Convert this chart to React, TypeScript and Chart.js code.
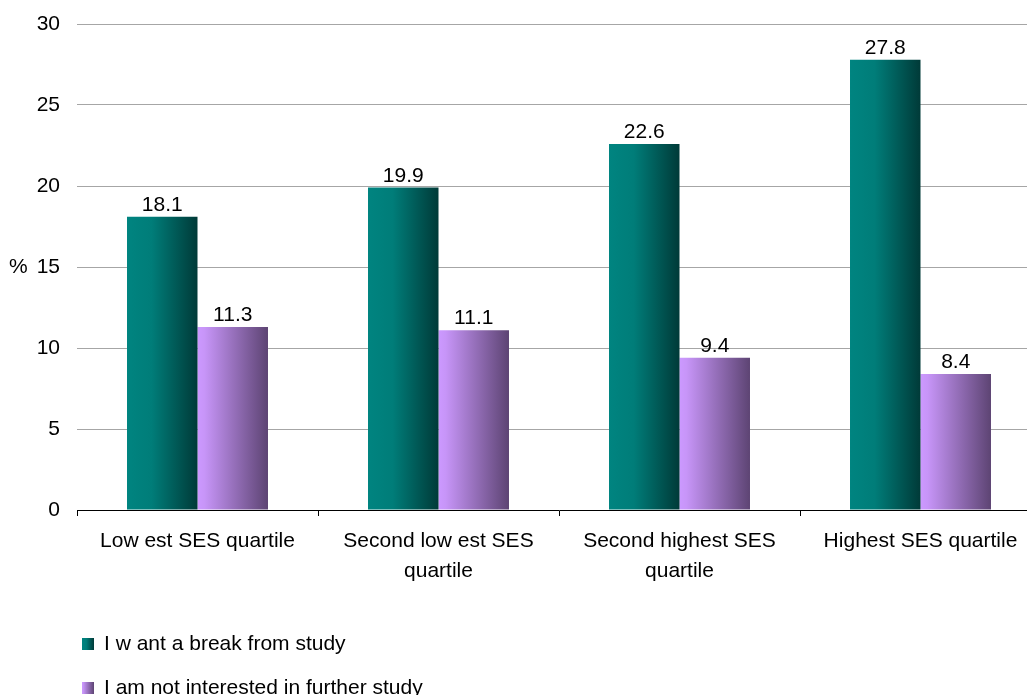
import React, { useEffect, useRef } from "react";
import { Chart, registerables } from "chart.js";

Chart.register(...registerables);

const categories: string[][] = [
  ["Low est SES quartile"],
  ["Second low est SES", "quartile"],
  ["Second highest SES", "quartile"],
  ["Highest SES quartile"],
];
const breakFromStudy = [18.1, 19.9, 22.6, 27.8];
const notInterested = [11.3, 11.1, 9.4, 8.4];
const seriesNames = ["I w ant a break from study", "I am not interested in further study"];
const yTicks = [0, 5, 10, 15, 20, 25, 30];

const FONT = "'Liberation Sans', Arial, sans-serif";
const TEXT_SIZE = 21;
const CAT_PCT = 0.585;

// left-to-right colour ramps for each series
const ramps: [number, string][][] = [
  [
    [0, "#008480"],
    [0.35, "#007d79"],
    [1, "#003a38"],
  ],
  [
    [0, "#cc99ff"],
    [0.1, "#c795f8"],
    [1, "#5d4473"],
  ],
];

function makeGradient(ctx: CanvasRenderingContext2D, x0: number, x1: number, ramp: [number, string][]) {
  const g = ctx.createLinearGradient(x0, 0, x1, 0);
  ramp.forEach(([s, c]) => g.addColorStop(s, c));
  return g;
}

function barFill(dsIndex: number) {
  return (context: any) => {
    const chart = context.chart;
    const x = chart.scales?.x;
    const fallback = ramps[dsIndex][0][1];
    if (!x || context.dataIndex === undefined) return fallback;
    const center = x.getPixelForValue(context.dataIndex);
    const catW = Math.abs(x.getPixelForValue(1) - x.getPixelForValue(0));
    if (!Number.isFinite(center) || !Number.isFinite(catW) || catW === 0) return fallback;
    const bw = (catW * CAT_PCT) / 2;
    const x0 = dsIndex === 0 ? center - bw : center;
    return makeGradient(chart.ctx, x0, x0 + bw, ramps[dsIndex]);
  };
}

const valueLabels = {
  id: "valueLabels",
  afterDatasetsDraw(chart: any) {
    const ctx = chart.ctx;
    ctx.save();
    ctx.font = `${TEXT_SIZE}px ${FONT}`;
    ctx.fillStyle = "#000";
    ctx.textAlign = "center";
    ctx.textBaseline = "alphabetic";
    chart.data.datasets.forEach((ds: any, i: number) => {
      chart.getDatasetMeta(i).data.forEach((bar: any, j: number) => {
        ctx.fillText(Number(ds.data[j]).toFixed(1), bar.x, bar.y - 6);
      });
    });
    ctx.restore();
  },
};

const sideLabelAndLegend = {
  id: "sideLabelAndLegend",
  afterDraw(chart: any) {
    const ctx = chart.ctx;
    const y = chart.scales.y;
    ctx.save();
    ctx.font = `${TEXT_SIZE}px ${FONT}`;
    ctx.fillStyle = "#000";
    ctx.textBaseline = "middle";
    ctx.textAlign = "left";
    ctx.fillText("%", 9, y.getPixelForValue(15));

    const rows = [644, 688];
    chart.data.datasets.forEach((ds: any, i: number) => {
      const cy = rows[i];
      ctx.fillStyle = makeGradient(ctx, 82, 94, ramps[i]);
      ctx.fillRect(82, cy - 6, 12, 12);
      ctx.fillStyle = "#000";
      ctx.fillText(ds.label, 104, cy);
    });
    ctx.restore();
  },
};

export default function App() {
  const ref = useRef<HTMLCanvasElement>(null);

  useEffect(() => {
    document.documentElement.style.overflow = "hidden";
    document.body.style.margin = "0";
    document.body.style.overflow = "hidden";
    if (!ref.current) return;
    const chart = new Chart(ref.current, {
      type: "bar",
      data: {
        labels: categories,
        datasets: [
          { label: seriesNames[0], data: breakFromStudy, backgroundColor: barFill(0), borderWidth: 0 },
          { label: seriesNames[1], data: notInterested, backgroundColor: barFill(1), borderWidth: 0 },
        ],
      },
      options: {
        responsive: false,
        animation: false,
        devicePixelRatio: 1,
        layout: { padding: { top: 24, right: 0, bottom: 0, left: 0 } },
        plugins: { legend: { display: false }, tooltip: { enabled: false } },
        datasets: { bar: { categoryPercentage: CAT_PCT, barPercentage: 1 } },
        scales: {
          x: {
            offset: true,
            grid: { drawOnChartArea: false, drawTicks: true, tickLength: 6, color: "#000", offset: true },
            border: { color: "#000", width: 1 },
            ticks: {
              font: { family: FONT, size: TEXT_SIZE, lineHeight: 1.4 },
              color: "#000",
              padding: 11,
              maxRotation: 0,
              autoSkip: false,
            },
            afterFit(scale: any) {
              scale.height = 185;
              scale.paddingTop = 0;
              scale.paddingBottom = 0;
            },
          },
          y: {
            min: 0,
            max: 30,
            afterBuildTicks(scale: any) {
              scale.ticks = yTicks.map((v) => ({ value: v }));
            },
            grid: {
              drawTicks: false,
              color: (c: any) => (c.tick && c.tick.value === 0 ? "rgba(0,0,0,0)" : "#a6a6a6"),
              lineWidth: 1,
            },
            border: { display: false },
            ticks: { font: { family: FONT, size: TEXT_SIZE }, color: "#000", padding: 17 },
            afterFit(scale: any) {
              scale.width = 77;
              scale.paddingTop = 0;
              scale.paddingBottom = 0;
            },
          },
        },
      },
      plugins: [valueLabels, sideLabelAndLegend],
    });
    return () => chart.destroy();
  }, []);

  return (
    <div style={{ width: 1041, height: 695, overflow: "hidden" }}>
      <canvas ref={ref} width={1041} height={695} style={{ display: "block" }} />
    </div>
  );
}
